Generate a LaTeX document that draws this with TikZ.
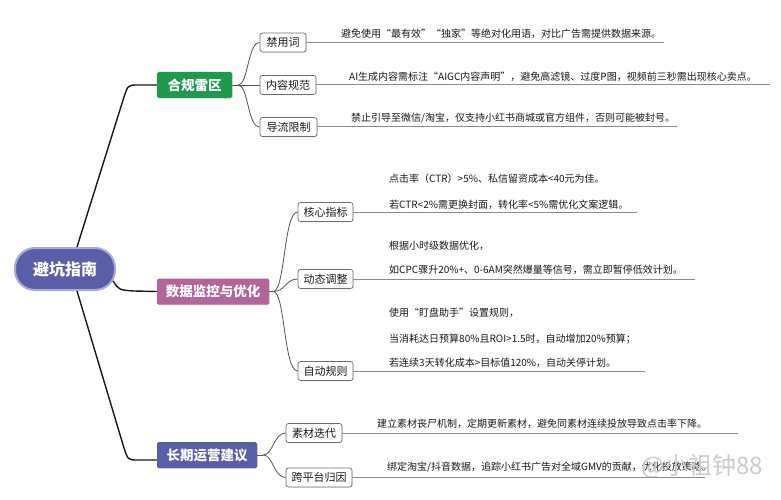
\documentclass[tikz,border=0pt]{standalone}
\usepackage{fontspec}
\setmainfont{Noto Sans CJK SC}
\usetikzlibrary{calc,shadows}
\definecolor{cgreen}{HTML}{1E9A4C}
\definecolor{cpink}{HTML}{B3649A}
\definecolor{cblue}{HTML}{5A5EA7}
\definecolor{cring}{HTML}{A7AADB}
\definecolor{cline}{HTML}{8C8C8C}
\definecolor{cconn}{HTML}{555555}
\definecolor{cbox}{HTML}{6E6E6E}
\definecolor{ctext}{HTML}{1A1A1A}
\begin{document}
\begin{tikzpicture}[x=1pt,y=-1pt,
 rootnode/.style={draw=cring, line width=2pt, fill=cblue, rounded corners=20pt, minimum width=100pt, minimum height=42pt, text=white, font=\fontsize{16}{18}\selectfont\bfseries, inner sep=0pt},
 topic/.style={fill=#1, minimum height=26pt, text=white, font=\fontsize{13.5}{15}\selectfont\bfseries, inner sep=0pt, rounded corners=1.5pt, drop shadow={opacity=0.25,shadow xshift=0.8pt,shadow yshift=-0.8pt}},
 subbox/.style={draw=cbox, fill=white, rounded corners=2.5pt, minimum height=19pt, inner sep=0pt, font=\fontsize{11}{13}\selectfont, text=ctext, line width=0.7pt, drop shadow={opacity=0.15,shadow xshift=0.8pt,shadow yshift=-0.8pt}},
 note/.style={anchor=west, inner sep=0pt, font=\fontsize{10}{12}\selectfont, text=ctext},
 rootline/.style={draw=black!90, line width=1.4pt},
 conn/.style={draw=cconn, line width=0.8pt},
 uline/.style={draw=cline, line width=1pt}]
\fill[white] (0,0) rectangle (781,500);
\useasboundingbox (0,0) rectangle (781,500);

% root and topics
\node[rootnode] (root) at (65,269) {避坑指南};
\node[topic=cgreen, minimum width=75pt] (t1) at (194.5,85) {合规雷区};
\node[topic=cpink, minimum width=112pt] (t2) at (213,291.5) {数据监控与优化};
\node[topic=cblue, minimum width=100pt] (t3) at (207,455) {长期运营建议};

% sub boxes
\node[subbox, minimum width=46pt] (s11) at (283,42.5) {禁用词};
\node[subbox, minimum width=56pt] (s12) at (288,85) {内容规范};
\node[subbox, minimum width=57pt] (s13) at (288.5,127) {导流限制};
\node[subbox, minimum width=55pt] (s21) at (325.5,212) {核心指标};
\node[subbox, minimum width=55pt] (s22) at (325.5,279) {动态调整};
\node[subbox, minimum width=55pt] (s23) at (325.5,371) {自动规则};
\node[subbox, minimum width=56pt] (s31) at (314,433) {素材迭代};
\node[subbox, minimum width=66pt] (s32) at (319,477.5) {跨平台归因};

% notes
\node[note] (n11) at (341,34) {避免使用“最有效”“独家”等绝对化用语，对比广告需提供数据来源。};
\node[note] (n12) at (349,77) {AI生成内容需标注“AIGC内容声明”，避免高滤镜、过度P图，视频前三秒需出现核心卖点。};
\node[note] (n13) at (351,118) {禁止引导至微信/淘宝，仅支持小红书商城或官方组件，否则可能被封号。};
\node[note] (n21a) at (389,179) {点击率（CTR）>5\%、私信留资成本<40元为佳。};
\node[note] (n21b) at (389,205) {若CTR<2\%需更换封面，转化率<5\%需优化文案逻辑。};
\node[note] (n22a) at (389,246) {根据小时级数据优化，};
\node[note] (n22b) at (389,270) {如CPC骤升20\%+、0-6AM突然爆量等信号，需立即暂停低效计划。};
\node[note] (n23a) at (389,313) {使用“盯盘助手”设置规则，};
\node[note] (n23b) at (389,339) {当消耗达日预算80\%且ROI>1.5时，自动增加20\%预算；};
\node[note] (n23c) at (389,363) {若连续3天转化成本>目标值120\%，自动关停计划。};
\node[note] (n31) at (377,424) {建立素材丧尸机制，定期更新素材，避免同素材连续投放导致点击率下降。};
\node[note] (n32) at (387,467) {绑定淘宝/抖音数据，追踪小红书广告对全域GMV的贡献，优化投放策略。};

% watermark
\node[inner sep=0pt, font=\fontsize{24}{26}\selectfont, text=gray!40] (wm) at (702,467) {@小祖钟88};

% underline ends
\coordinate (e11) at (664,42.5);
\coordinate (e12) at (770,85);
\coordinate (e13) at (677,127);
\coordinate (e21) at (637,212);
\coordinate (e22) at (695,279);
\coordinate (e23) at (645,371);
\coordinate (e31) at (738,433);
\coordinate (e32) at (705,477.5);
\foreach \s/\e in {s11/e11,s12/e12,s13/e13,s21/e21,s22/e22,s23/e23,s31/e31,s32/e32}
  \draw[uline] (\s.east) -- (\e);

% root connectors
\draw[rootline] ($(root.north)+(12,0)$) -- (124,97) .. controls (128,85) .. (138,85) -- (t1.west);
\draw[rootline] ($(root.east)+(-3,12)$) .. controls (119,290) .. (134,291) -- (t2.west);
\draw[rootline] ($(root.south)+(12,0)$) -- (124,448) .. controls (128,460) .. (138,460) -- ($(t3.west)+(0,5)$);

% topic connectors
\draw[conn] (t1.east) -- ++(6,0) coordinate (b1);
\draw[conn] (b1) .. controls +(10,0) and +(-12,0) .. (s11.west);
\draw[conn] (b1) -- (s12.west);
\draw[conn] (b1) .. controls +(10,0) and +(-12,0) .. (s13.west);

\draw[conn] (t2.east) -- ++(4,0) coordinate (b2);
\draw[conn] (b2) .. controls +(12,0) and +(-14,0) .. (s21.west);
\draw[conn] (b2) .. controls +(12,0) and +(-12,0) .. (s22.west);
\draw[conn] (b2) .. controls +(12,0) and +(-14,0) .. (s23.west);

\draw[conn] (t3.east) -- ++(6,0) coordinate (b3);
\draw[conn] (b3) .. controls +(10,0) and +(-12,0) .. (s31.west);
\draw[conn] (b3) .. controls +(10,0) and +(-12,0) .. (s32.west);
\end{tikzpicture}
\end{document}
